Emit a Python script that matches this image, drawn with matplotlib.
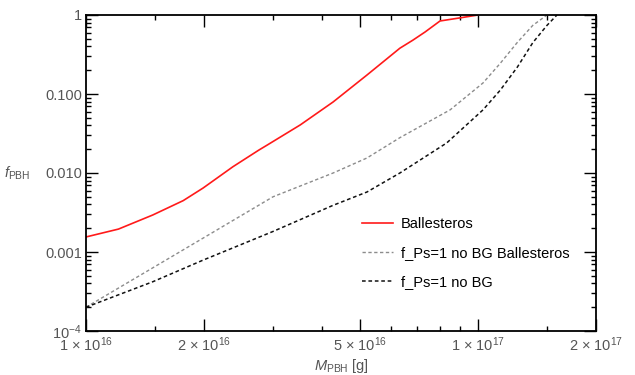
import matplotlib
matplotlib.use("Agg")
import matplotlib.pyplot as plt
from matplotlib.ticker import FixedLocator, FixedFormatter, LogLocator, NullFormatter

plt.rcParams['font.family'] = ['Liberation Sans', 'DejaVu Sans']
plt.rcParams['mathtext.fontset'] = 'custom'
plt.rcParams['mathtext.rm'] = 'Liberation Sans'
plt.rcParams['mathtext.it'] = 'Liberation Sans:italic'

# masses in units of 1e16 g
m_red = [1.0, 1.21, 1.48, 1.77, 1.99, 2.37, 2.76, 2.90, 3.52, 4.27, 5.21, 6.32, 6.82, 7.33, 8.0, 9.0, 10.0]
f_red = [1.55e-3, 1.95e-3, 2.94e-3, 4.47e-3, 6.46e-3, 0.012, 0.0195, 0.0226, 0.0406, 0.0793, 0.174,
         0.38, 0.48, 0.61, 0.84, 0.92, 1.0]

m_gray = [1.0, 1.48, 1.99, 3.0, 4.27, 5.21, 6.32, 8.49, 10.3, 11.4, 12.6, 13.8, 15.0]
f_gray = [2.0e-4, 6.3e-4, 1.5e-3, 5.0e-3, 0.0100, 0.0155, 0.028, 0.063, 0.138, 0.245, 0.45, 0.74, 1.0]

m_black = [1.0, 1.48, 1.99, 3.0, 4.27, 5.21, 6.32, 8.32, 10.3, 11.4, 12.6, 13.8, 15.0, 15.9]
f_black = [2.0e-4, 4.2e-4, 7.9e-4, 1.82e-3, 3.9e-3, 5.75e-3, 0.010, 0.024, 0.063, 0.112, 0.219,
           0.447, 0.74, 1.0]

labels = ["Ballesteros", "f_Ps=1 no BG Ballesteros", "f_Ps=1 no BG"]

x_major = [1e16, 2e16, 5e16, 1e17, 2e17]
x_major_labels = ["1 × 10$^{16}$", "2 × 10$^{16}$", "5 × 10$^{16}$", "1 × 10$^{17}$", "2 × 10$^{17}$"]
x_minor = [1.5e16, 3e16, 4e16, 6e16, 7e16, 8e16, 9e16, 1.5e17]
y_major = [1e-4, 1e-3, 1e-2, 1e-1, 1]
y_major_labels = ["10$^{-4}$", "0.001", "0.010", "0.100", "1"]

fig = plt.figure(figsize=(6.35, 3.75), dpi=100)
ax = fig.add_axes([86 / 635, 1 - 331 / 375, 510 / 635, 316 / 375])

ax.plot([m * 1e16 for m in m_red], f_red, color='#ff1a1a', lw=1.2, label=labels[0])
ax.plot([m * 1e16 for m in m_gray], f_gray, color='#8c8c8c', lw=1.0, dashes=(2.4, 1.8), label=labels[1])
ax.plot([m * 1e16 for m in m_black], f_black, color='#111111', lw=1.1, dashes=(2.4, 1.8), label=labels[2])

ax.set_xscale('log')
ax.set_yscale('log')
ax.set_xlim(1e16, 2e17)
ax.set_ylim(1e-4, 1)

ax.xaxis.set_major_locator(FixedLocator(x_major))
ax.xaxis.set_major_formatter(FixedFormatter(x_major_labels))
ax.xaxis.set_minor_locator(FixedLocator(x_minor))
ax.xaxis.set_minor_formatter(NullFormatter())
ax.yaxis.set_major_locator(FixedLocator(y_major))
ax.yaxis.set_major_formatter(FixedFormatter(y_major_labels))
ax.yaxis.set_minor_locator(LogLocator(base=10, subs=range(2, 10)))
ax.yaxis.set_minor_formatter(NullFormatter())

ax.tick_params(which='both', direction='in', top=True, right=True, width=1.0,
               labelsize=10.5, labelcolor='#555555', color='black')
ax.tick_params(which='major', length=8.5, pad=3)
ax.tick_params(which='minor', length=3.6)
for s in ax.spines.values():
    s.set_linewidth(1.3)

ax.set_xlabel("$M_{\\mathrm{PBH}}$ [g]", fontsize=10.5, color='#555555', labelpad=2)
ax.set_ylabel("$f_{\\mathrm{PBH}}$", fontsize=10.5, color='#555555', rotation=0,
              ha='right', va='center')
ax.yaxis.set_label_coords(-0.11, 0.5)

ax.legend(loc='upper left', bbox_to_anchor=(0.541, 0.362), frameon=False, fontsize=10.5,
          handlelength=2.1, handletextpad=0.55, labelspacing=1.05, borderpad=0, borderaxespad=0)

fig.savefig("out.png", dpi=100)
